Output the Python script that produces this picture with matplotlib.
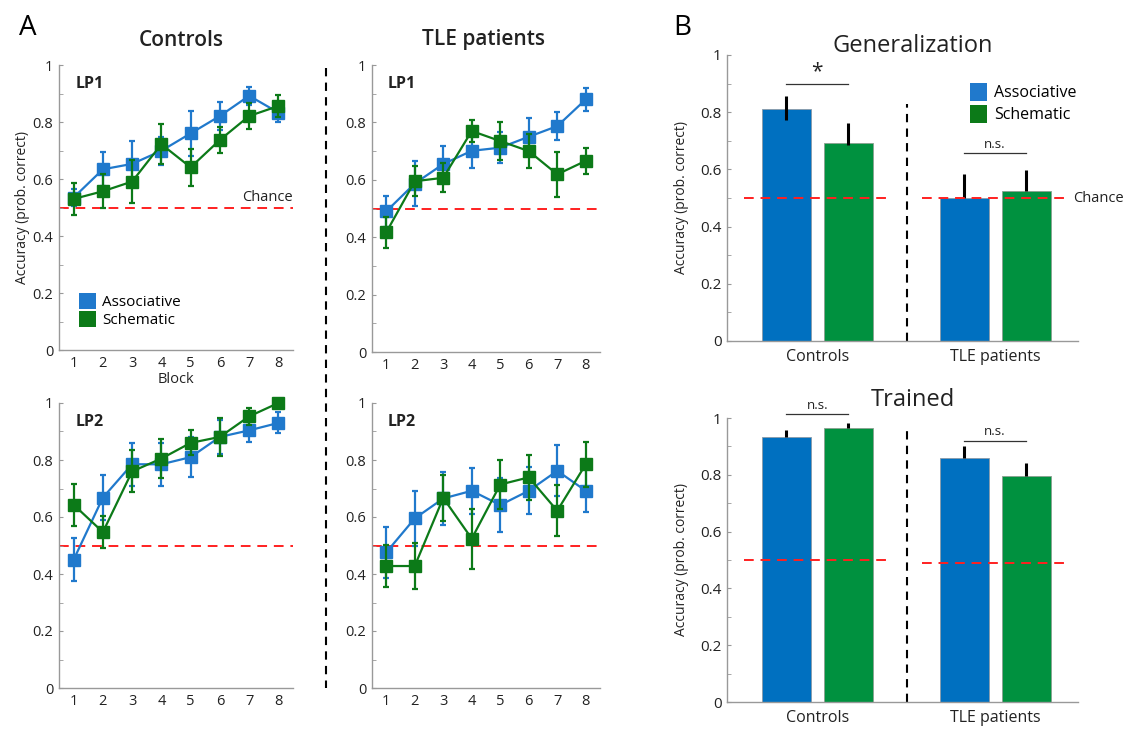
import numpy as np
import matplotlib
matplotlib.use("Agg")
import matplotlib.pyplot as plt
from matplotlib.patches import Patch

plt.rcParams['font.family'] = ['Open Sans', 'DejaVu Sans']

# ---------------- data ----------------
blocks = [1, 2, 3, 4, 5, 6, 7, 8]
series_names = ["Associative", "Schematic"]

ctrl_lp1_assoc = [0.535, 0.634, 0.653, 0.699, 0.760, 0.821, 0.892, 0.833]
ctrl_lp1_assoc_err = [0.03, 0.06, 0.08, 0.05, 0.08, 0.048, 0.032, 0.033]
ctrl_lp1_schem = [0.530, 0.557, 0.591, 0.722, 0.641, 0.737, 0.821, 0.856]
ctrl_lp1_schem_err = [0.056, 0.06, 0.075, 0.07, 0.066, 0.047, 0.044, 0.04]

tle_lp1_assoc = [0.490, 0.587, 0.655, 0.701, 0.712, 0.750, 0.787, 0.880]
tle_lp1_assoc_err = [0.053, 0.08, 0.063, 0.06, 0.055, 0.066, 0.05, 0.04]
tle_lp1_schem = [0.417, 0.595, 0.607, 0.770, 0.735, 0.700, 0.619, 0.666]
tle_lp1_schem_err = [0.055, 0.052, 0.05, 0.04, 0.065, 0.06, 0.078, 0.046]

ctrl_lp2_assoc = [0.450, 0.668, 0.785, 0.785, 0.810, 0.881, 0.904, 0.930]
ctrl_lp2_assoc_err = [0.076, 0.078, 0.075, 0.076, 0.07, 0.06, 0.04, 0.037]
ctrl_lp2_schem = [0.643, 0.547, 0.760, 0.805, 0.860, 0.881, 0.953, 1.0]
ctrl_lp2_schem_err = [0.073, 0.055, 0.074, 0.067, 0.044, 0.067, 0.03, 0.0]

tle_lp2_assoc = [0.476, 0.595, 0.665, 0.692, 0.642, 0.692, 0.762, 0.692]
tle_lp2_assoc_err = [0.09, 0.095, 0.094, 0.08, 0.095, 0.083, 0.09, 0.076]
tle_lp2_schem = [0.428, 0.428, 0.667, 0.524, 0.714, 0.739, 0.622, 0.785]
tle_lp2_schem_err = [0.075, 0.08, 0.08, 0.105, 0.085, 0.079, 0.09, 0.078]

groups = ["Controls", "TLE patients"]
gen_assoc = [0.811, 0.499]
gen_assoc_err_up = [0.045, 0.084]
gen_assoc_err_lo = [0.04, 0.0]
gen_schem = [0.691, 0.523]
gen_schem_err_up = [0.072, 0.075]
gen_schem_err_lo = [0.005, 0.0]
gen_chance = [0.5, 0.5]

tr_assoc = [0.934, 0.858]
tr_assoc_err_up = [0.024, 0.045]
tr_assoc_err_lo = [0.0, 0.0]
tr_schem = [0.966, 0.797]
tr_schem_err_up = [0.015, 0.046]
tr_schem_err_lo = [0.0, 0.0]
tr_chance = [0.5, 0.49]

gen_sig = ["*", "n.s."]
tr_sig = ["n.s.", "n.s."]

# ---------------- style ----------------
LINE_BLUE = "#2079cc"
LINE_GREEN = "#0c7a18"
BAR_BLUE = "#0070c0"
BAR_GREEN = "#00913f"
SPINE = "#999999"
TXT = "#222222"
RED_DASH = (0, (5, 3.5))

W, H = 1130, 736
fig = plt.figure(figsize=(W / 100, H / 100), dpi=100)


def px_axes(x0, y0, x1, y1):
    return fig.add_axes([x0 / W, 1 - y1 / H, (x1 - x0) / W, (y1 - y0) / H])


def style_axes(ax, labelsize=10.5):
    for s in ["top", "right"]:
        ax.spines[s].set_visible(False)
    for s in ["left", "bottom"]:
        ax.spines[s].set_color(SPINE)
        ax.spines[s].set_linewidth(1.0)
    ax.tick_params(axis="both", direction="in", color=SPINE, length=3,
                   labelsize=labelsize, labelcolor=TXT, pad=4)
    ax.tick_params(axis="y", which="minor", direction="in", color=SPINE, length=3)
    ax.set_ylim(0, 1)
    ax.set_yticks([0, 0.2, 0.4, 0.6, 0.8, 1.0])
    ax.set_yticklabels(["0", "0.2", "0.4", "0.6", "0.8", "1"])
    ax.set_yticks(np.arange(0.1, 1.0, 0.2), minor=True)


def line_panel(ax, a, ae, s, se, label):
    style_axes(ax)
    ax.set_xlim(0.5, 8.5)
    ax.set_xticks(blocks)
    ax.tick_params(axis="x", length=0)
    ax.axhline(0.5, color="#ff2020", ls=RED_DASH, lw=1.4, zorder=1)
    ax.errorbar(blocks, a, yerr=ae, color=LINE_BLUE, lw=1.6, marker="s",
                ms=8.5, mec=LINE_BLUE, mfc=LINE_BLUE, capsize=2, elinewidth=1.6,
                capthick=1.6, zorder=3, clip_on=False)
    ax.errorbar(blocks, s, yerr=se, color=LINE_GREEN, lw=1.6, marker="s",
                ms=8.5, mec=LINE_GREEN, mfc=LINE_GREEN, capsize=2, elinewidth=1.6,
                capthick=1.6, zorder=4, clip_on=False)
    ax.text(0.07, 0.96, label, transform=ax.transAxes, fontsize=11.5,
            fontweight="bold", va="top", ha="left", color=TXT)


ax1 = px_axes(59, 65, 293, 350)
line_panel(ax1, ctrl_lp1_assoc, ctrl_lp1_assoc_err, ctrl_lp1_schem, ctrl_lp1_schem_err, "LP1")
ax1.set_xlabel("Block", fontsize=10.5, color=TXT, labelpad=1)
ax1.set_ylabel("Accuracy (prob. correct)", fontsize=10, color=TXT, labelpad=2)
ax1.text(8.5, 0.508, "Chance", fontsize=10.5, color=TXT, ha="right", va="bottom")
ax1.legend(handles=[Patch(facecolor=LINE_BLUE, label=series_names[0]),
                    Patch(facecolor=LINE_GREEN, label=series_names[1])],
           loc="lower left", bbox_to_anchor=(0.04, 0.04), frameon=False,
           fontsize=11, handlelength=1.1, handleheight=1.2,
           handletextpad=0.4, labelspacing=0.05, borderpad=0.2)

ax2 = px_axes(372, 65, 600, 352)
line_panel(ax2, tle_lp1_assoc, tle_lp1_assoc_err, tle_lp1_schem, tle_lp1_schem_err, "LP1")

ax3 = px_axes(59, 403, 293, 688)
line_panel(ax3, ctrl_lp2_assoc, ctrl_lp2_assoc_err, ctrl_lp2_schem, ctrl_lp2_schem_err, "LP2")

ax4 = px_axes(372, 403, 600, 688)
line_panel(ax4, tle_lp2_assoc, tle_lp2_assoc_err, tle_lp2_schem, tle_lp2_schem_err, "LP2")

# ---------------- bar panels ----------------
bw = 1.0
centers = np.array([1.84, 5.47])
off = 0.63
divider_x = 3.67


def bar_panel(ax, a, a_up, a_lo, s, s_up, s_lo, chance, sig, sig_y, div_top, title, title_y):
    style_axes(ax, labelsize=11)
    ax.set_xlim(0, 7.16)
    ax.tick_params(axis="x", length=0, labelsize=11.5, pad=6)
    ax.set_xticks(centers)
    ax.set_xticklabels(groups)
    ax.bar(centers - off, a, width=bw, color=BAR_BLUE, edgecolor="#8a9aa8", lw=0.6, zorder=2)
    ax.bar(centers + off, s, width=bw, color=BAR_GREEN, edgecolor="#8aa090", lw=0.6, zorder=2)
    ax.errorbar(centers - off, a, yerr=[a_lo, a_up], fmt="none", ecolor="black",
                elinewidth=2.2, capsize=0, zorder=3, clip_on=False)
    ax.errorbar(centers + off, s, yerr=[s_lo, s_up], fmt="none", ecolor="black",
                elinewidth=2.2, capsize=0, zorder=3, clip_on=False)
    for i, c in enumerate(centers):
        ax.plot([c - 1.5, c + 1.5], [chance[i], chance[i]], color="#ff2020",
                ls=RED_DASH, lw=1.4, zorder=4)
        ax.plot([c - off, c + off], [sig_y[i], sig_y[i]], color="#333333",
                lw=0.9, clip_on=False)
        if sig[i] == "*":
            ax.text(c, sig_y[i] + 0.005, sig[i], ha="center", va="bottom",
                    fontsize=15, color=TXT)
        else:
            ax.text(c, sig_y[i] + 0.008, sig[i], ha="center", va="bottom",
                    fontsize=9.5, color=TXT)
    ax.plot([divider_x, divider_x], [0, div_top], color="black",
            ls=(0, (4, 3)), lw=1.5, zorder=1, clip_on=False)
    ax.set_ylabel("Accuracy (prob. correct)", fontsize=10, color=TXT, labelpad=8)
    ax.text(0.53, title_y, title, transform=ax.transAxes, ha="center",
            va="center", fontsize=17, color=TXT)


ax5 = px_axes(727, 55, 1078, 341)
bar_panel(ax5, gen_assoc, gen_assoc_err_up, gen_assoc_err_lo,
          gen_schem, gen_schem_err_up, gen_schem_err_lo, gen_chance,
          gen_sig, [0.90, 0.656], 0.83, "Generalization", 1.03)
ax5.text(7.06, 0.5, "Chance", fontsize=10.5, color=TXT, ha="left", va="center")
ax5.legend(handles=[Patch(facecolor=LINE_BLUE, label=series_names[0]),
                    Patch(facecolor=LINE_GREEN, label=series_names[1])],
           loc="upper left", bbox_to_anchor=(0.66, 0.94), frameon=False,
           fontsize=11.5, handlelength=1.1, handleheight=1.3,
           handletextpad=0.4, labelspacing=0.25, borderpad=0.2)

ax6 = px_axes(727, 418, 1078, 702)
bar_panel(ax6, tr_assoc, tr_assoc_err_up, tr_assoc_err_lo,
          tr_schem, tr_schem_err_up, tr_schem_err_lo, tr_chance,
          tr_sig, [1.014, 0.92], 0.975, "Trained", 1.065)

# ---------------- figure decorations ----------------
fig.text(28 / W, 1 - 28 / H, "A", fontsize=20, ha="center", va="center", color="black")
fig.text(682 / W, 1 - 28 / H, "B", fontsize=20, ha="center", va="center", color="black")
fig.text(181 / W, 1 - 40 / H, "Controls", fontsize=15, fontweight="semibold",
         ha="center", va="center", color=TXT)
fig.text(484 / W, 1 - 40 / H, "TLE patients", fontsize=15, fontweight="semibold",
         ha="center", va="center", color=TXT)
fig.add_artist(plt.Line2D([326 / W, 326 / W], [1 - 68 / H, 1 - 688 / H],
                          color="black", ls=(0, (4, 3)), lw=1.5))

fig.savefig("out.png", dpi=100)
